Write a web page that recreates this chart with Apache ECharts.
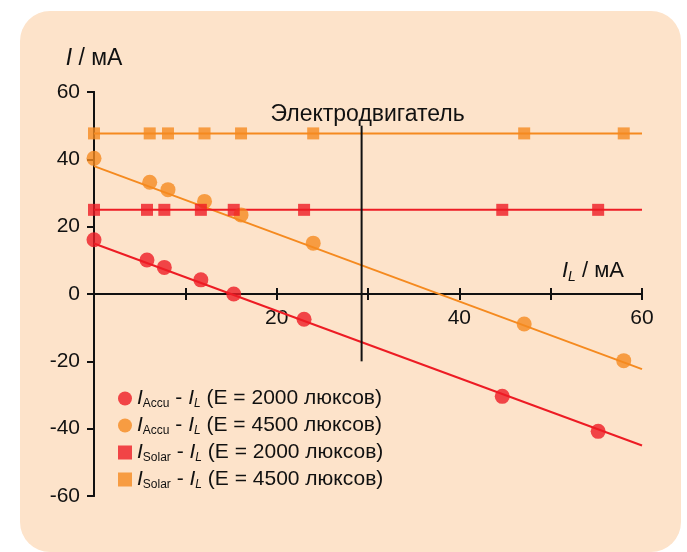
<!DOCTYPE html>
<html>
<head>
<meta charset="UTF-8">
<title>I - I_L</title>
<script src="https://cdn.jsdelivr.net/npm/echarts@6/dist/echarts.min.js"></script>
<style>
  html, body { margin: 0; padding: 0; background: #ffffff; }
  #main { width: 687px; height: 552px; }
</style>
</head>
<body>
<div id="main"></div>
<script type="text/javascript">
// values
var accuX2000 = [0, 5.8, 7.7, 11.7, 15.3, 23.0, 44.7, 55.2];
var accuY2000 = [16.1, 10.1, 7.9, 4.2, 0, -7.5, -30.4, -40.8];
var accuX4500 = [0, 6.1, 8.1, 12.1, 16.1, 24.0, 47.1, 58.0];
var accuY4500 = [40.3, 33.2, 31.0, 27.5, 23.5, 15.1, -8.9, -19.8];
var solarY2000 = [25, 25, 25, 25, 25, 25, 25, 25];
var solarY4500 = [47.7, 47.7, 47.7, 47.7, 47.7, 47.7, 47.7, 47.7];

// straight lines (ends)
var fitX = [0, 60];
var fit2000 = [15, -45];
var fit4500 = [38, -22.3];
var level2000 = [25, 25];
var level4500 = [47.7, 47.7];

var motorX = 29.3;
var motorY = [50, -20];
var motorName = 'Электродвигатель';

var seriesNames = ['accu2000', 'accu4500', 'solar2000', 'solar4500'];
var legendSub = ['Accu', 'Accu', 'Solar', 'Solar'];
var legendLux = ['2000', '4500', '2000', '4500'];

var red = '#ED1C24';
var orange = '#F58A1F';
var font = 'Liberation Sans';

function pairs(xs, ys) {
  var out = [];
  for (var i = 0; i < xs.length; i++) out.push([xs[i], ys[i]]);
  return out;
}

var myChart = echarts.init(document.getElementById('main'));

// x axis sits at y = 0, i.e. half the grid height above the bottom
var baseX = {
  type: 'value', min: 0, max: 60, interval: 10,
  position: 'bottom', offset: -202,
  axisLine: { onZero: false, lineStyle: { color: '#111', width: 2 } },
  axisTick: { length: 6, lineStyle: { color: '#111', width: 2 } },
  splitLine: { show: false }
};
var baseY = {
  type: 'value', min: -60, max: 60, interval: 20,
  axisLine: { lineStyle: { color: '#111', width: 2 } },
  axisTick: { length: 7, lineStyle: { color: '#111', width: 2 } },
  splitLine: { show: false }
};

var option = {
  animation: false,
  graphic: [{
    type: 'rect', z: -10,
    shape: { x: 20, y: 11, width: 661, height: 541, r: 30 },
    style: { fill: '#FDE3CA' }
  }],
  grid: { left: 94, right: 45, top: 92, bottom: 56 },
  legend: {
    orient: 'vertical', left: 113, top: 383,
    itemWidth: 14, itemHeight: 14, itemGap: 5,
    data: seriesNames,
    formatter: function (name) {
      var k = seriesNames.indexOf(name);
      return '{i|I}{s|' + legendSub[k] + '}{t| - }{i|I}{si|L}{t| (E = ' + legendLux[k] + ' люксов)}';
    },
    textStyle: {
      fontFamily: font, color: '#111',
      rich: {
        i: { fontSize: 21, fontStyle: 'italic', fontFamily: font, lineHeight: 23 },
        t: { fontSize: 21, fontFamily: font, lineHeight: 23 },
        s: { fontSize: 12, fontFamily: font, lineHeight: 14, verticalAlign: 'bottom' },
        si: { fontSize: 12, fontStyle: 'italic', fontFamily: font, lineHeight: 14, verticalAlign: 'bottom' }
      }
    }
  },
  xAxis: [
    Object.assign({}, baseX, {
      name: '{i|I}{s|L}{t| / мА}',
      nameLocation: 'end', nameGap: -80,
      nameTextStyle: {
        verticalAlign: 'bottom', padding: [0, 0, 10, 0],
        rich: {
          i: { fontSize: 22, fontStyle: 'italic', fontFamily: font, color: '#111', lineHeight: 26 },
          s: { fontSize: 14, fontStyle: 'italic', fontFamily: font, color: '#111', lineHeight: 16, verticalAlign: 'bottom' },
          t: { fontSize: 22, fontFamily: font, color: '#111', lineHeight: 26 }
        }
      },
      axisLabel: {
        margin: 14, fontSize: 21, fontFamily: font, color: '#111',
        formatter: function (v) { return (v % 20 === 0 && v !== 0) ? v : ''; }
      }
    }),
    Object.assign({}, baseX, {
      axisTick: { inside: true, length: 6, lineStyle: { color: '#111', width: 2 } },
      axisLabel: { show: false }
    })
  ],
  yAxis: [
    Object.assign({}, baseY, {
      name: '{i|I}{t| / мА}',
      nameLocation: 'end', nameGap: 22,
      nameTextStyle: {
        rich: {
          i: { fontSize: 23, fontStyle: 'italic', fontFamily: font, color: '#111' },
          t: { fontSize: 23, fontFamily: font, color: '#111' }
        }
      },
      axisLabel: { margin: 14, fontSize: 21, fontFamily: font, color: '#111' }
    }),
    Object.assign({}, baseY, {
      axisTick: { inside: true, length: 7, lineStyle: { color: '#111', width: 2 } },
      axisLabel: { show: false }
    })
  ],
  series: [
    { name: 'fit2000', type: 'line', data: pairs(fitX, fit2000), showSymbol: false, silent: true,
      lineStyle: { color: red, width: 2 }, z: 2 },
    { name: 'fit4500', type: 'line', data: pairs(fitX, fit4500), showSymbol: false, silent: true,
      lineStyle: { color: orange, width: 2 }, z: 2 },
    { name: 'level2000', type: 'line', data: pairs(fitX, level2000), showSymbol: false, silent: true,
      lineStyle: { color: red, width: 2 }, z: 2 },
    { name: 'level4500', type: 'line', data: pairs(fitX, level4500), showSymbol: false, silent: true,
      lineStyle: { color: orange, width: 2 }, z: 2 },
    { name: 'motor', type: 'line', data: pairs([motorX, motorX], motorY), symbolSize: 0, silent: true,
      lineStyle: { color: '#111', width: 2 }, z: 3,
      label: {
        show: true, position: 'top', distance: 0, offset: [6, 0],
        fontSize: 23, fontFamily: font, color: '#111',
        formatter: function (p) { return p.dataIndex === 0 ? motorName : ''; }
      }
    },
    { name: 'accu2000', type: 'scatter', data: pairs(accuX2000, accuY2000), symbol: 'circle', symbolSize: 15,
      itemStyle: { color: red }, z: 5 },
    { name: 'accu4500', type: 'scatter', data: pairs(accuX4500, accuY4500), symbol: 'circle', symbolSize: 15,
      itemStyle: { color: orange }, z: 5 },
    { name: 'solar2000', type: 'scatter', data: pairs(accuX2000, solarY2000), symbol: 'rect', symbolSize: 12,
      itemStyle: { color: red }, z: 5 },
    { name: 'solar4500', type: 'scatter', data: pairs(accuX4500, solarY4500), symbol: 'rect', symbolSize: 12,
      itemStyle: { color: orange }, z: 5 }
  ]
};

myChart.setOption(option);
</script>
</body>
</html>
